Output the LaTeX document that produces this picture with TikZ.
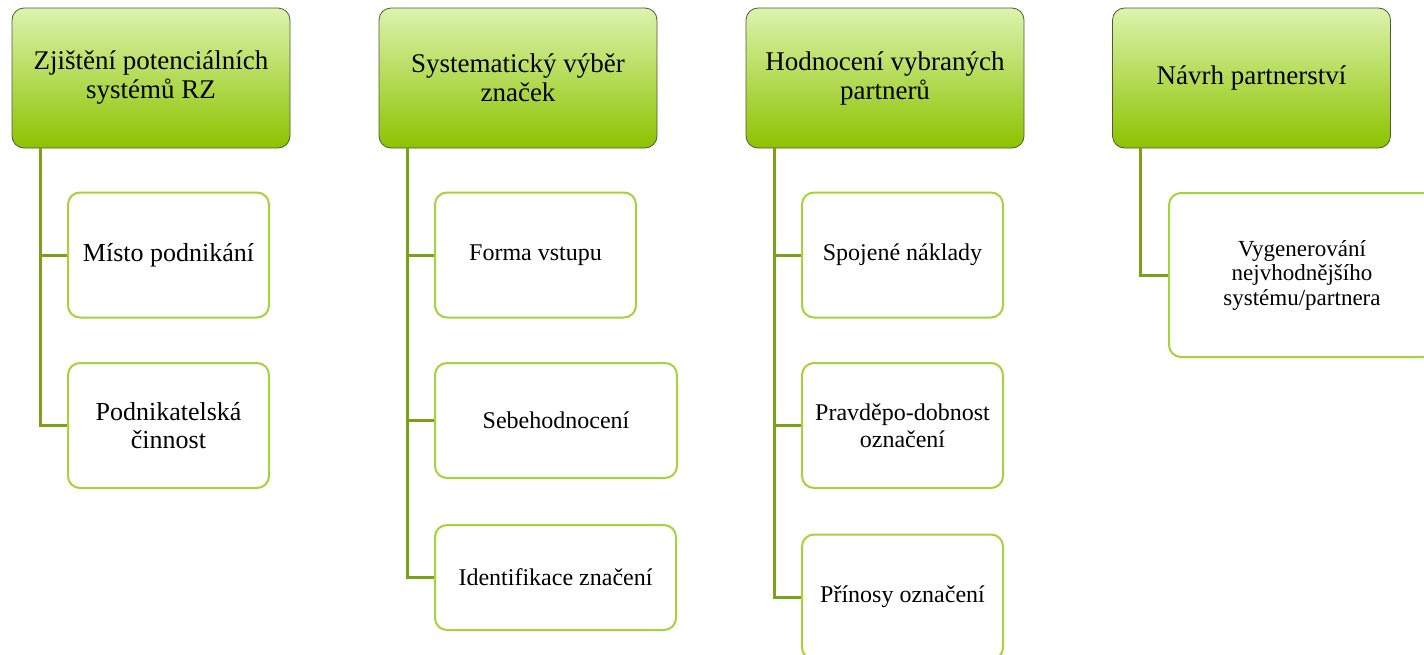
\documentclass[tikz,border=0pt]{standalone}
\usepackage{fontspec}
\setmainfont{Liberation Serif}
\usetikzlibrary{positioning,calc}
\definecolor{LeafTop}{HTML}{DCF3AE}
\definecolor{LeafBottom}{HTML}{8CC300}
\definecolor{HeadRim}{HTML}{4F5A33}
\definecolor{Stem}{HTML}{79A11A}
\definecolor{ItemRim}{HTML}{A6D23C}

\begin{document}
\begin{tikzpicture}[x=1pt,y=-1pt,
    hdr/.style={draw=HeadRim,line width=0.8pt,top color=LeafTop,bottom color=LeafBottom,rounded corners=12pt,minimum width=278pt,minimum height=140pt,align=center,font=\fontsize{27}{29}\selectfont},
    item/.style={draw=ItemRim,line width=2pt,fill=white,rounded corners=12pt,minimum width=201pt,minimum height=125pt,align=center,font=\fontsize{24}{27}\selectfont},
    big/.style={font=\fontsize{26}{28}\selectfont},
    link/.style={draw=Stem,line width=3pt}]
      \useasboundingbox (0,0) rectangle (1424,654);
      % headers
      \node[hdr] (h1) at (151,78) {Zjištění potenciálních\\systémů RZ};
      \node[hdr] (h2) at (518,78) {Systematický výběr\\značek};
      \node[hdr] (h3) at (885,78) {Hodnocení vybraných\\partnerů};
      \node[hdr] (h4) at (1251.5,78) {Návrh partnerství};
      
      % items
      \node[item,big] (m1) at (168.5,255) {Místo podnikání};
      \node[item,big] (m2) at (168.5,425.5) {Podnikatelská\\činnost};
      
      \node[item] (s1) at (535.5,255) {Forma vstupu};
      \node[item,minimum width=242pt,minimum height=115pt] (s2) at (556,420.5) {Sebehodnocení};
      \node[item,minimum width=241pt,minimum height=105pt] (s3) at (555.5,577.5) {Identifikace značení};
      
      \node[item] (p1) at (902.5,255) {Spojené náklady};
      \node[item] (p2) at (902.5,425.5) {Pravděpo-dobnost\\označení};
      \node[item] (p3) at (902.5,597) {Přínosy označení};
      
      \node[item,minimum width=266pt,minimum height=164pt,font=\fontsize{23}{24.5}\selectfont] (n1) at (1302,275) {Vygenerování\\nejvhodnějšího\\systému/partnera};
      
      % stems
      \foreach \hd/\it in {h1/m1,h1/m2,h2/s1,h2/s2,h2/s3,h3/p1,h3/p2,h3/p3,h4/n1}
        \draw[link] ([xshift=28.5pt]\hd.south west) |- (\it.west);
    \end{tikzpicture}
\end{document}
